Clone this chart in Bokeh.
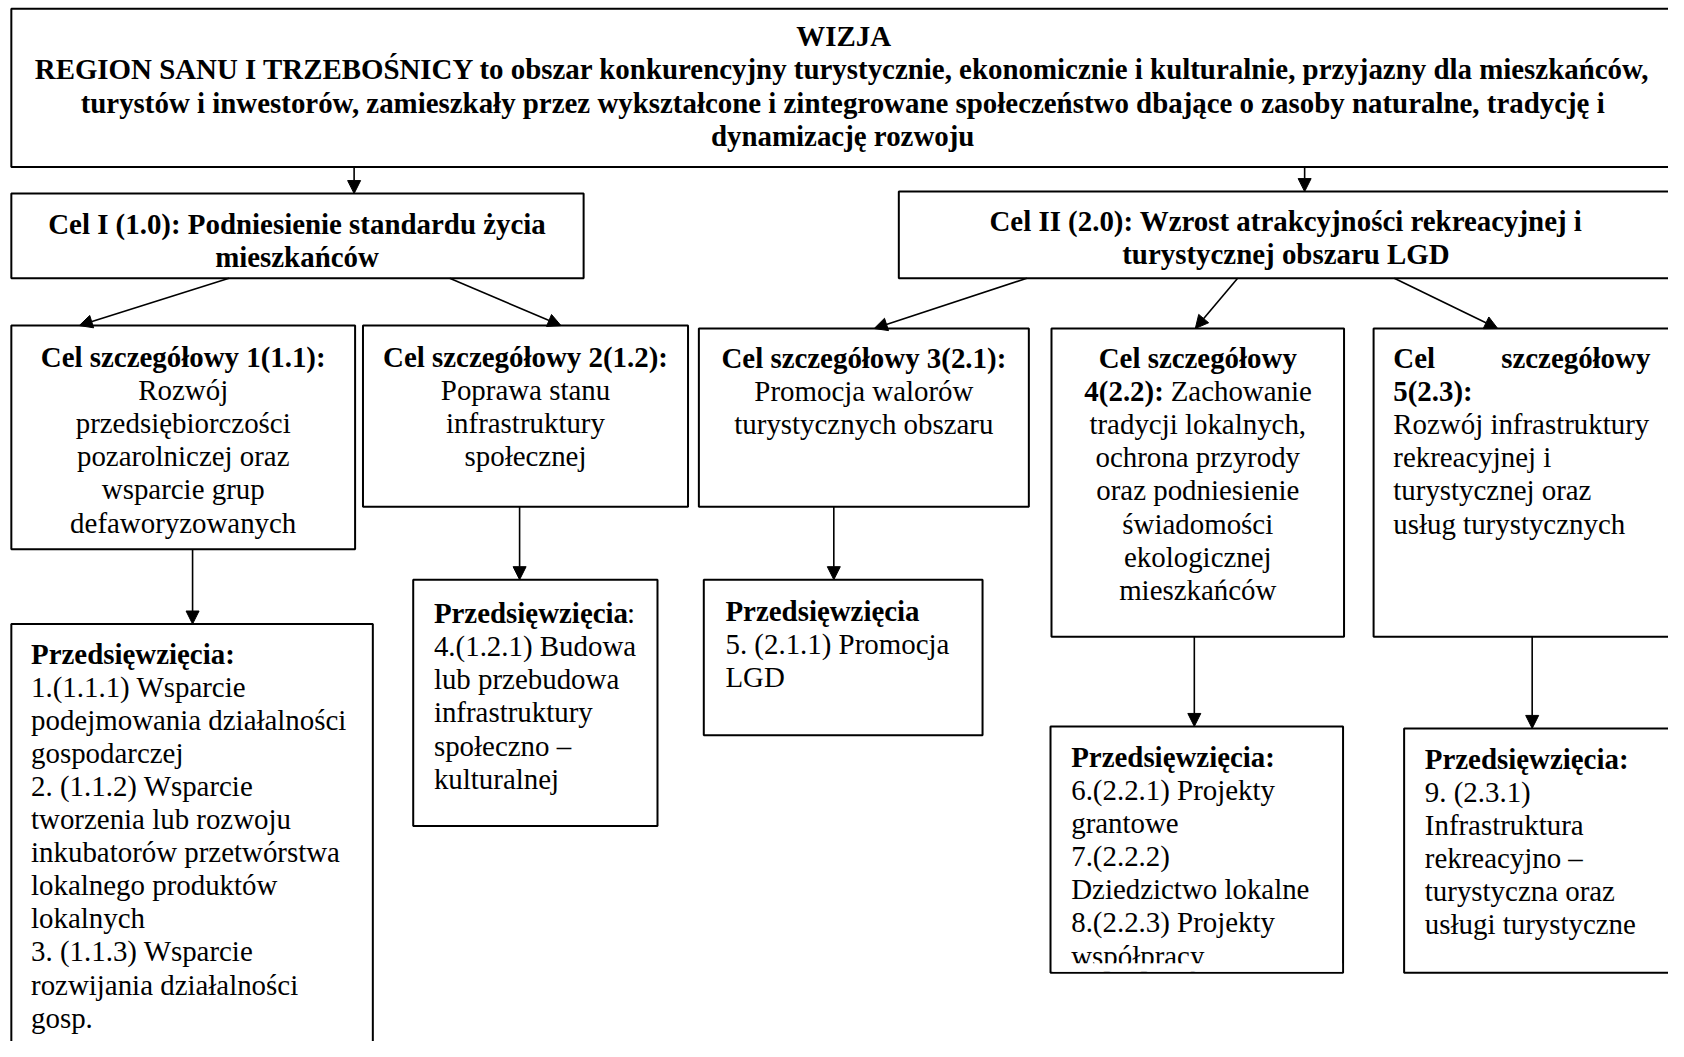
from bokeh.plotting import figure
from bokeh.models import Range1d, Arrow, NormalHead
from bokeh.core.properties import value
from bokeh.embed import file_html
from bokeh.resources import INLINE

# ---------------- DATA (texts of the diagram) ----------------
vision_title = "WIZJA"
vision_lines = [
    "REGION SANU I TRZEBOŚNICY to obszar konkurencyjny turystycznie, ekonomicznie i kulturalnie, przyjazny dla mieszkańców,",
    "turystów i inwestorów, zamieszkały przez wykształcone i zintegrowane społeczeństwo dbające o zasoby naturalne, tradycję i",
    "dynamizację rozwoju",
]
goal1_lines = ["Cel I (1.0): Podniesienie standardu życia", "mieszkańców"]
goal2_lines = ["Cel II (2.0): Wzrost atrakcyjności rekreacyjnej i", "turystycznej obszaru LGD"]

obj1_head = "Cel szczegółowy 1(1.1):"
obj1_lines = ["Rozwój", "przedsiębiorczości", "pozarolniczej oraz", "wsparcie grup", "defaworyzowanych"]
obj2_head = "Cel szczegółowy 2(1.2):"
obj2_lines = ["Poprawa stanu", "infrastruktury", "społecznej"]
obj3_head = "Cel szczegółowy 3(2.1):"
obj3_lines = ["Promocja walorów", "turystycznych obszaru"]
obj4_head = ["Cel szczegółowy", "4(2.2):"]
obj4_lines = ["Zachowanie", "tradycji lokalnych,", "ochrona przyrody", "oraz podniesienie",
              "świadomości", "ekologicznej", "mieszkańców"]
obj5_head = ["Cel", "szczegółowy", "5(2.3):"]
obj5_lines = ["Rozwój infrastruktury", "rekreacyjnej i", "turystycznej oraz", "usług turystycznych"]

proj_head = "Przedsięwzięcia"
proj1_lines = ["1.(1.1.1) Wsparcie", "podejmowania działalności", "gospodarczej", "2. (1.1.2) Wsparcie",
               "tworzenia lub rozwoju", "inkubatorów przetwórstwa", "lokalnego produktów", "lokalnych",
               "3. (1.1.3) Wsparcie", "rozwijania działalności", "gosp."]
proj2_lines = ["4.(1.2.1) Budowa", "lub przebudowa", "infrastruktury", "społeczno –", "kulturalnej"]
proj3_lines = ["5. (2.1.1) Promocja", "LGD"]
proj4_lines = ["6.(2.2.1) Projekty", "grantowe", "7.(2.2.2)", "Dziedzictwo lokalne",
               "8.(2.2.3) Projekty", "współpracy"]
proj5_lines = ["9. (2.3.1)", "Infrastruktura", "rekreacyjno –", "turystyczna oraz", "usługi turystyczne"]

# ---------------- LAYOUT ----------------
W, H = 1668, 1041
S = 0.985                      # reference pixels -> screen pixels
FONT = value("Liberation Serif")
FS = "28.9px"
STEP = 33.6

p = figure(width=W, height=H, output_backend="svg", toolbar_location=None,
           x_range=Range1d(0, W / S), y_range=Range1d(H / S, 0),
           min_border=0)
p.axis.visible = False
p.grid.visible = False
p.outline_line_color = None
p.background_fill_color = "white"
p.border_fill_color = "white"

# boxes: left, right, top, bottom (reference pixels)
boxes = {
    "vision": (11, 1740, 8.5, 169),
    "goal1": (11, 592, 196, 282),
    "goal2": (912, 1740, 194, 282),
    "obj1": (11, 360, 330, 557),
    "obj2": (368, 698, 330, 514),
    "obj3": (709, 1044, 333, 514),
    "obj4": (1067, 1364, 333, 646),
    "obj5": (1394, 1740, 333, 646),
    "proj1": (11, 378, 633, 1100),
    "proj2": (419, 667, 588, 838),
    "proj3": (714, 997, 588, 746),
    "proj4": (1066, 1363, 737, 987),
    "proj5": (1425, 1740, 739, 987),
}
names = list(boxes)
p.quad(left=[boxes[n][0] for n in names], right=[boxes[n][1] for n in names],
       top=[boxes[n][2] for n in names], bottom=[boxes[n][3] for n in names],
       fill_color="white", line_color="black", line_width=2)

# arrows (start -> tip)
arrows = [
    ((359, 169), (359, 196)),
    ((1324, 169), (1324, 194)),
    ((232, 282), (80, 330)),
    ((456, 282), (569, 330)),
    ((1042, 282), (887, 333)),
    ((1256, 282), (1213, 333)),
    ((1415, 282), (1520, 333)),
    ((195, 557), (195, 633)),
    ((527, 514), (527, 588)),
    ((846, 514), (846, 588)),
    ((1212, 646), (1212, 737)),
    ((1555, 646), (1555, 739)),
]
for (x0, y0), (x1, y1) in arrows:
    p.add_layout(Arrow(end=NormalHead(size=13, fill_color="black", line_color="black", line_width=1),
                       x_start=x0, y_start=y0, x_end=x1, y_end=y1,
                       line_color="black", line_width=1.6))


def txt(xs, ys, texts, bold=False, align="center"):
    p.text(x=xs, y=ys, text=texts, text_font=FONT, text_font_size=FS,
           text_font_style="bold" if bold else "normal", text_align=align,
           text_baseline="middle", text_color="black")


def lines_at(x, y0, items, bold=False, align="center"):
    txt([x] * len(items), [y0 + STEP * i for i in range(len(items))], items, bold, align)


# vision
txt([856], [36], [vision_title], bold=True)
lines_at(855, 70, vision_lines, bold=True)
# goals
lines_at(301, 227, goal1_lines, bold=True)
lines_at(1305, 224, goal2_lines, bold=True)
# objectives
txt([185.5], [362], [obj1_head], bold=True)
lines_at(185.5, 362 + STEP, obj1_lines)
txt([533], [362], [obj2_head], bold=True)
lines_at(533, 362 + STEP, obj2_lines)
txt([876.5], [363], [obj3_head], bold=True)
lines_at(876.5, 363 + STEP, obj3_lines)
txt([1215.5], [363], [obj4_head[0]], bold=True)
txt([1181], [363 + STEP], [obj4_head[1]], bold=True, align="right")
txt([1188], [363 + STEP], [obj4_lines[0]], align="left")
lines_at(1215.5, 363 + 2 * STEP, obj4_lines[1:])
txt([1414], [363], [obj5_head[0]], bold=True, align="left")
txt([1675], [363], [obj5_head[1]], bold=True, align="right")
txt([1414], [363 + STEP], [obj5_head[2]], bold=True, align="left")
lines_at(1414, 363 + 2 * STEP, obj5_lines, align="left")
# projects
txt([31], [663], [proj_head + ":"], bold=True, align="left")
lines_at(31, 663 + STEP, proj1_lines, align="left")
txt([440], [622], [proj_head], bold=True, align="left")
txt([636], [622], [":"], align="left")
lines_at(440, 622 + STEP, proj2_lines, align="left")
txt([736], [620], [proj_head], bold=True, align="left")
lines_at(736, 620 + STEP, proj3_lines, align="left")
txt([1087], [768], [proj_head + ":"], bold=True, align="left")
lines_at(1087, 768 + STEP, proj4_lines, align="left")
txt([1446], [770], [proj_head + ":"], bold=True, align="left")
lines_at(1446, 770 + STEP, proj5_lines, align="left")

# text box clipping of last line in project box 4
p.quad(left=[1068], right=[1362], top=[977.5], bottom=[986], fill_color="white", line_color=None)

open("out.html", "w").write(file_html(p, INLINE))
